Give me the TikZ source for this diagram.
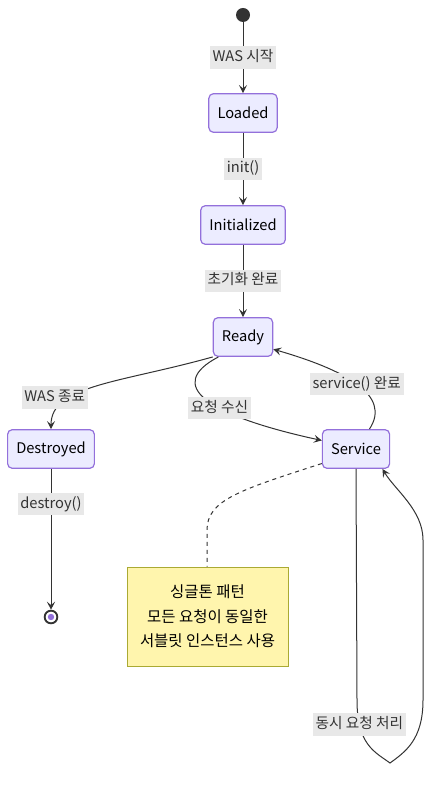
\documentclass[tikz,border=0pt]{standalone}
\usepackage{fontspec}
\setmainfont{Noto Sans CJK KR}
\usetikzlibrary{arrows.meta}
\definecolor{statefill}{HTML}{ECECFF}
\definecolor{stateline}{HTML}{9370DB}
\definecolor{edgegray}{HTML}{333333}
\definecolor{labelgray}{HTML}{E8E8E8}
\definecolor{notefill}{HTML}{FFF5AD}
\definecolor{noteline}{HTML}{AAAA33}

\begin{document}
\begin{tikzpicture}[x=0.75pt,y=-0.75pt,>={Stealth[length=6pt,width=6pt,inset=2.5pt]},
  font=\fontsize{11}{13}\selectfont]
  \tikzstyle{state}=[rectangle, rounded corners=3.5pt, fill=statefill, draw=stateline,
line width=0.9pt, text=black, minimum height=29pt, inner xsep=6.5pt]
  \tikzstyle{lbl}=[fill=labelgray, text=edgegray, inner xsep=2pt, inner ysep=2.5pt,
text height=9pt, text depth=3pt]
  \tikzstyle{edge}=[->, draw=edgegray, line width=0.75pt]
  \useasboundingbox (0,0) rectangle (438,787);

  \node[circle, fill=edgegray, minimum size=10.5pt, inner sep=0pt] (start) at (243,15) {};
  \node[state] (loaded) at (243,113) {Loaded};
  \node[state] (initialized) at (243,225) {Initialized};
  \node[state] (ready) at (243,337) {Ready};
  \node[state] (destroyed) at (51,449) {Destroyed};
  \node[state] (service) at (356,449) {Service};
  \node[circle, draw=edgegray, line width=1.4pt, fill=white, minimum size=9.5pt, inner sep=0pt] (end) at (51,617) {};
  \fill[stateline] (end) circle (2.4pt);
  \node[rectangle, fill=notefill, draw=noteline, line width=0.75pt, minimum width=120.75pt,
minimum height=74.25pt, align=center, font=\fontsize{11.6}{18.4}\selectfont] (note) at (207.5,616.5)
    {싱글톤 패턴\\모든 요청이 동일한\\서블릿 인스턴스 사용};

  \draw[edge] (start) -- node[lbl] {WAS 시작} (loaded);
  \draw[edge] (loaded) -- node[lbl] {init()} (initialized);
  \draw[edge] (initialized) -- node[lbl] {초기화 완료} (ready);
  \draw[edge] (ready.south west) .. controls (120,383) and (51,385) .. node[lbl, pos=0.68, xshift=-12pt] {WAS 종료} (destroyed.north);
  \draw[edge] (ready.-141) .. controls (165,385) and (205,415) .. node[lbl, pos=0.6] {요청 수신} (service.166);
  \draw[edge] (service.56) .. controls (392,395) and (345,370) .. node[lbl, pos=0.5] {service() 완료} (ready.-22);
  \draw[edge] (destroyed) -- node[lbl, pos=0.25] {destroy()} (end);
  \draw[edge] (service.south) -- (357,700) .. controls (357,745) and (375,752) .. node[lbl, pos=0.22] {동시 요청 처리} (390,763)
    .. controls (405,752) and (423,740) .. (423,700) -- (423,540) .. controls (423,510) and (395,490) .. (service.-37);
  \draw[edgegray, line width=0.75pt, dashed] (service.-157) .. controls (240,490) and (207,500) .. (207,530) -- (note);
\end{tikzpicture}
\end{document}
